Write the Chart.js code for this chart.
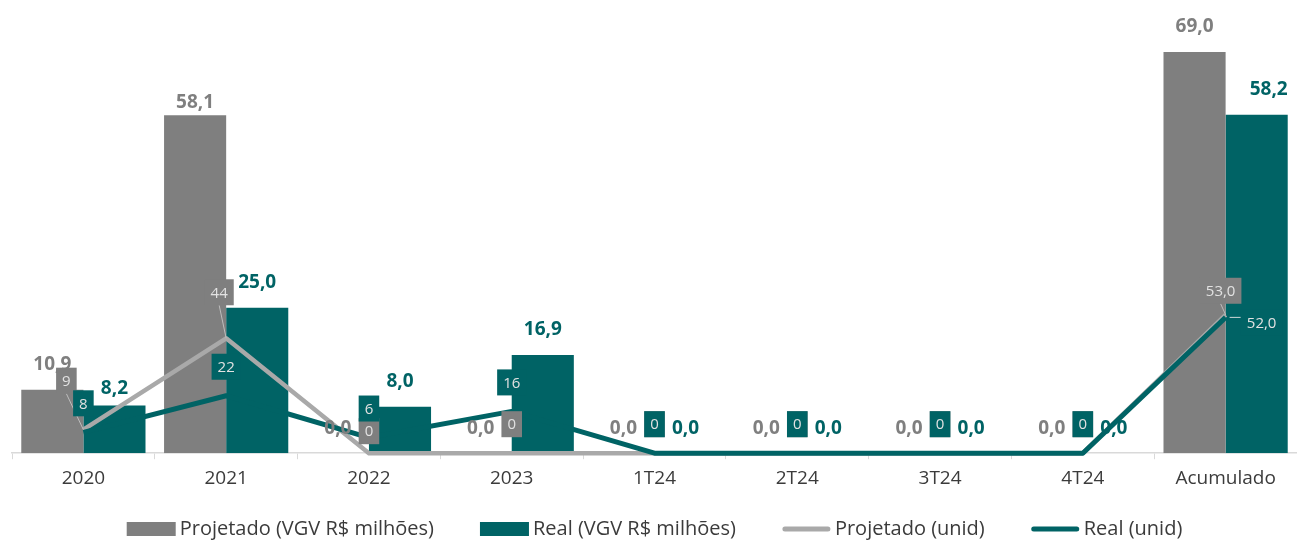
<!DOCTYPE html>
<html lang="pt-BR">
<head>
<meta charset="utf-8">
<title>VGV projetado x real</title>
<script src="https://cdn.jsdelivr.net/npm/chart.js@4.4.1/dist/chart.umd.min.js"></script>
<style>
    html, body { margin: 0; padding: 0; background: #ffffff; }
    #chartBox { width: 1297px; height: 542px; }
</style>
</head>
<body>
<div id="chartBox"><canvas id="vgvChart" width="1297" height="542"></canvas></div>
<script>
// Lançamentos - VGV projetado x real

const categories = ['2020', '2021', '2022', '2023', '1T24', '2T24', '3T24', '4T24', 'Acumulado'];
const projetadoVgv = [10.9, 58.1, 0, 0, 0, 0, 0, 0, 69.0];
const realVgv = [8.2, 25.0, 8.0, 16.9, 0, 0, 0, 0, 58.2];
const projetadoUnid = [9, 44, 0, 0, 0, 0, 0, 0, 53];
const realUnid = [8, 22, 6, 16, 0, 0, 0, 0, 52];

const GRAY = '#7f7f7f';
const TEAL = '#006365';
const LIGHT_GRAY = '#a9a9a9';
const TEXT = '#3b3b3b';
const FONT = '"Open Sans", sans-serif';

// labels that were moved by hand in the original sheet (dx, dy from the default spot)
const barLabelNudge = {
    0: { 1: [0, 12] },
    1: { 0: [0, 8], 8: [12, 0] }
};
const unitLabelNudge = {
    2: { 0: [-17, -20], 1: [-7, -17], 2: [0, 7], 8: [-5, 5] },
    3: { 8: [36, 34] }
};

function fmtDec(v) {
    return v.toFixed(1).replace('.', ',');
}

const valueLabels = {
    id: 'valueLabels',
    afterDatasetsDraw(chart) {
        const ctx = chart.ctx;
        const lastIndex = chart.data.labels.length - 1;
        ctx.save();
        ctx.textAlign = 'center';
        ctx.textBaseline = 'middle';

        // bar values
        ctx.font = 'bold 19px ' + FONT;
        [0, 1].forEach(di => {
            const ds = chart.data.datasets[di];
            const nudge = barLabelNudge[di] || {};
            chart.getDatasetMeta(di).data.forEach((bar, i) => {
                const shift = nudge[i] || [0, 0];
                ctx.fillStyle = ds.backgroundColor;
                ctx.fillText(fmtDec(ds.data[i]), bar.x + shift[0], bar.y - 25 + shift[1]);
            });
        });

        // unit values, in boxes
        ctx.font = '15px ' + FONT;
        [2, 3].forEach(di => {
            const ds = chart.data.datasets[di];
            const nudge = unitLabelNudge[di] || {};
            chart.getDatasetMeta(di).data.forEach((pt, i) => {
                const v = ds.data[i];
                const text = i === lastIndex ? fmtDec(v) : String(v);
                const shift = nudge[i] || [0, 0];
                const cx = pt.x + shift[0];
                const cy = pt.y - 29 + shift[1];
                const w = ctx.measureText(text).width + 12;
                const h = 26;

                if (nudge[i] && (Math.abs(shift[0]) > 4 || shift[1] < -10)) {
                    ctx.strokeStyle = di === 2 ? '#bdbdbd' : '#cfd8d8';
                    ctx.lineWidth = 1;
                    ctx.beginPath();
                    if (shift[0] > 0) {
                        ctx.moveTo(pt.x + 4, pt.y);
                        ctx.lineTo(cx - w / 2, pt.y);
                    } else {
                        ctx.moveTo(cx, cy + h / 2);
                        ctx.lineTo(pt.x, pt.y);
                    }
                    ctx.stroke();
                }

                ctx.fillStyle = di === 2 ? GRAY : TEAL;
                ctx.fillRect(cx - w / 2, cy - h / 2, w, h);
                ctx.fillStyle = '#e2e2e2';
                ctx.fillText(text, cx, cy + 1);
            });
        });
        ctx.restore();
    }
};

const bottomLegend = {
    id: 'bottomLegend',
    afterDraw(chart) {
        const ctx = chart.ctx;
        const y = 529;
        const symW = 49;
        const symGap = 4;
        const itemGap = 46;
        ctx.save();
        ctx.font = '20px ' + FONT;
        ctx.textBaseline = 'middle';
        ctx.textAlign = 'left';

        const items = chart.data.datasets.map(ds => ({
            ds: ds,
            width: ctx.measureText(ds.label).width
        }));
        const total = items.reduce((s, it) => s + symW + symGap + it.width, 0) + itemGap * (items.length - 1);
        let x = (chart.chartArea.left + chart.chartArea.right) / 2 - total / 2;

        items.forEach(it => {
            if (it.ds.type === 'line') {
                ctx.strokeStyle = it.ds.borderColor;
                ctx.lineWidth = 5;
                ctx.lineCap = 'round';
                ctx.beginPath();
                ctx.moveTo(x + 3, y);
                ctx.lineTo(x + symW - 3, y);
                ctx.stroke();
            } else {
                ctx.fillStyle = it.ds.backgroundColor;
                ctx.fillRect(x, y - 7, symW, 14);
            }
            x += symW + symGap;
            ctx.fillStyle = TEXT;
            ctx.fillText(it.ds.label, x, y);
            x += it.width + itemGap;
        });
        ctx.restore();
    }
};

const ctx = document.getElementById('vgvChart').getContext('2d');
new Chart(ctx, {
    type: 'bar',
    data: {
        labels: categories,
        datasets: [
            {
                label: 'Projetado (VGV R$ milhões)',
                data: projetadoVgv,
                backgroundColor: GRAY,
                yAxisID: 'y',
                order: 2,
                categoryPercentage: 0.87,
                barPercentage: 1.0
            },
            {
                label: 'Real (VGV R$ milhões)',
                data: realVgv,
                backgroundColor: TEAL,
                yAxisID: 'y',
                order: 2,
                categoryPercentage: 0.87,
                barPercentage: 1.0
            },
            {
                type: 'line',
                label: 'Projetado (unid)',
                data: projetadoUnid,
                borderColor: LIGHT_GRAY,
                borderWidth: 4.5,
                pointRadius: 0,
                tension: 0,
                borderJoinStyle: 'round',
                yAxisID: 'y1',
                order: 1,
                clip: false
            },
            {
                type: 'line',
                label: 'Real (unid)',
                data: realUnid,
                borderColor: TEAL,
                borderWidth: 5,
                pointRadius: 0,
                tension: 0,
                borderJoinStyle: 'round',
                yAxisID: 'y1',
                order: 0,
                clip: false
            }
        ]
    },
    options: {
        responsive: false,
        animation: false,
        devicePixelRatio: 1,
        layout: { padding: { top: 17, left: 12, right: 0, bottom: 44 } },
        plugins: {
            legend: { display: false },
            tooltip: { enabled: false }
        },
        scales: {
            x: {
                grid: {
                    display: true,
                    drawOnChartArea: false,
                    drawTicks: true,
                    tickLength: 6,
                    color: '#d9d9d9',
                    offset: true
                },
                border: { display: true, color: '#d9d9d9', width: 1.5 },
                ticks: {
                    color: TEXT,
                    padding: 8,
                    font: { family: FONT, size: 19 }
                }
            },
            y: { display: false, min: 0, max: 75 },
            y1: { display: false, position: 'right', min: 0, max: 167 }
        }
    },
    plugins: [valueLabels, bottomLegend]
});
</script>
</body>
</html>
